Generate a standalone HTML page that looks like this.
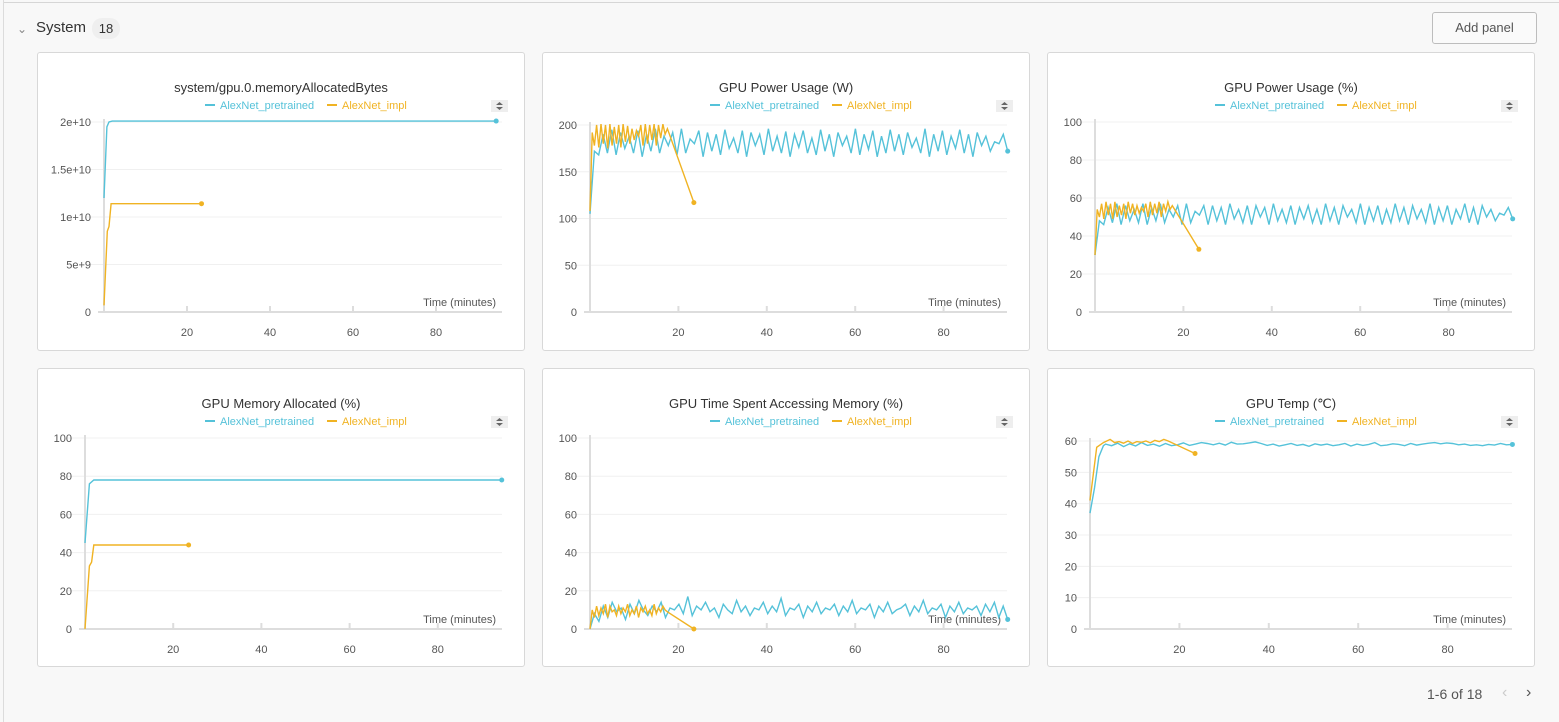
<!DOCTYPE html>
<html><head><meta charset="utf-8">
<style>
body{margin:0;width:1559px;height:722px;background:#f8f8f8;font-family:"Liberation Sans",sans-serif;position:relative;overflow:hidden}
.abs{position:absolute}
.panel{position:absolute;background:#fff;border:1px solid #d8d8d8;border-radius:3px;box-sizing:border-box}
svg{position:absolute;left:0;top:0}
</style></head><body>
<div class="abs" style="left:3px;top:2px;width:1556px;height:1px;background:#d6d6d6"></div>
<div class="abs" style="left:3px;top:0;width:1px;height:722px;background:#dcdcdc"></div>
<div class="abs" style="left:17px;top:22px;width:12px;height:12px;font-size:12px;color:#888">&#8964;</div>
<div class="abs" style="left:36px;top:19px;font-size:15px;color:#333">System</div>
<div class="abs" style="left:92px;top:18px;width:28px;height:21px;border-radius:10px;background:#efefef;font-size:13px;color:#333;text-align:center;line-height:21px">18</div>
<div class="abs" style="left:1432px;top:12px;width:103px;height:30px;border:1px solid #bdbdbd;border-radius:3px;background:#fafafa;font-size:13px;color:#555;text-align:center;line-height:30px">Add panel</div>
<div class="abs" style="left:1427px;top:686px;font-size:14px;color:#555">1-6 of 18</div>
<div class="abs" style="left:1502px;top:684px;font-size:16px;color:#ccc">&#8249;</div>
<div class="abs" style="left:1526px;top:684px;font-size:16px;color:#555">&#8250;</div>
<svg id="chart" width="1559" height="722"></svg>
<script>
const seriesNames=["AlexNet_pretrained","AlexNet_impl"];
const panelTitles=["system/gpu.0.memoryAllocatedBytes","GPU Power Usage (W)","GPU Power Usage (%)","GPU Memory Allocated (%)","GPU Time Spent Accessing Memory (%)","GPU Temp (\u2103)"];
const xTicks=[20,40,60,80];
const yTicksBytes=[0,5e9,1e10,1.5e10,2e10];
const yTickLabelsBytes=["0","5e+9","1e+10","1.5e+10","2e+10"];
const yTicksW=[0,50,100,150,200];
const yTicksPct=[0,20,40,60,80,100];
const yTicksTemp=[0,10,20,30,40,50,60];
// memory bytes
const bytesPreT=[0,0.7,1.2,2,94.5];
const bytesPreV=[1.2e10,1.95e10,2.0e10,2.01e10,2.01e10];
const bytesImplT=[0,0.8,1.2,1.7,23.5];
const bytesImplV=[0.07e10,0.85e10,0.9e10,1.14e10,1.14e10];
// power W (pretrained sampled evenly 0..94.5)
const powerWPre=[105,172,168,190,170,195,168,192,175,188,170,194,166,190,172,196,170,188,178,192,168,196,170,185,180,194,166,192,172,190,168,195,175,186,170,194,166,192,178,190,168,196,172,188,170,193,166,190,176,194,170,186,168,195,172,190,166,192,178,188,170,196,168,190,174,194,166,188,170,195,172,190,168,192,176,186,170,196,166,190,172,194,168,188,175,195,170,190,166,192,178,188,172,182,180,190,172];
// power W impl sampled every 0.5 min 0..17, then final point
const powerWImpl=[108,192,178,200,176,201,180,200,175,201,178,198,180,200,176,201,182,199,180,196,184,194,188,200,178,201,180,200,184,201,178,200,186,201,190,196];
const powerWImplEndT=23.5, powerWImplEndV=117;
const powerPctPre=[30,48,46,55,47,57,46,56,48,54,47,57,46,55,48,57,47,54,50,56,46,57,47,53,51,56,46,56,48,55,46,57,49,54,47,56,46,56,50,55,46,57,48,54,47,56,46,55,49,56,47,54,46,57,48,55,46,56,50,54,47,57,46,55,48,56,46,54,47,57,48,55,46,56,49,54,47,57,46,55,48,56,46,54,49,57,47,55,46,56,50,54,48,52,51,55,49];
const powerPctImpl=[30,54,50,57,49,58,51,57,49,58,50,56,51,57,49,58,52,57,51,56,52,55,53,57,50,58,51,57,52,58,50,57,53,58,54,56];
const powerPctImplEndT=23.5, powerPctImplEndV=33;
const memPctPreT=[0,1,2,94.5];
const memPctPreV=[45,76,78,78];
const memPctImplT=[0,1,1.5,2,23.5];
const memPctImplV=[0,33,35,44,44];
const accessPre=[0,8,4,12,6,14,9,11,5,13,8,15,10,7,12,9,14,6,11,10,13,8,17,7,12,10,14,9,11,6,13,10,8,15,9,12,7,11,10,14,8,12,9,16,7,11,10,13,6,12,9,14,8,11,10,13,7,12,9,15,8,11,10,13,6,12,9,14,8,10,11,13,7,12,9,15,8,11,10,13,6,12,9,14,8,11,10,12,7,13,9,14,6,12,5];
const accessImpl=[0,10,6,12,7,11,8,13,6,12,9,10,7,12,8,11,9,13,7,10,8,12,6,11,9,12,8,10,7,13,8,11,9,12,10,9];
const accessImplEndT=23.5, accessImplEndV=0;
const tempPreT=[0,1,2,3];
const tempPreV=[37,45,55,58.5];
const tempPreNoise=[59,58.5,59.3,58.2,59.1,58.4,59.5,58.6,59,58.3,59.2,58.5,58.8,59.4,58.6,59,59.5,59.2,58.8,59.3,58.7,59.6,59,59.1,59.4,59.7,59.2,58.6,59,58.4,58.8,59.2,58.6,58.9,58.3,59.1,58.7,59,58.5,58.8,59.2,58.4,59,58.6,58.9,59.5,58.5,58.7,59.1,58.9,58.5,59.2,58.7,59,59.3,59.5,59.1,59.4,59.2,58.8,59,58.6,58.8,58.5,58.9,58.7,59.2,58.8,58.9];
const tempImplT=[0,1.5,3,4.5,5.5,6.5,7.5,8.5,9.5,10.5,11.5,12.5,13.5,14.5,15.5,16.5,17.5,23.5];
const tempImplV=[41,58,59.5,60.5,59.5,59.8,59.3,60,59.2,59.8,59.6,60,59.4,60.2,59.8,60.5,60,56];

const BLUE="#55c2d9", ORANGE="#f0b323";
const NS="http://www.w3.org/2000/svg";
const svg=document.getElementById('chart');
function mk(tag,attrs,parent){const e=document.createElementNS(NS,tag);for(const k in attrs)e.setAttribute(k,attrs[k]);(parent||svg).appendChild(e);return e;}
function evenT(n,end){const t=[];for(let i=0;i<n;i++)t.push(i*end/(n-1));return t;}
function stepT(n,step){const t=[];for(let i=0;i<n;i++)t.push(i*step);return t;}

const panels=[
 {left:37,top:52,x0:104,ppm:4.15,right:502,yTop:122,yBot:312,ymax:2e10,yt:yTicksBytes,yl:yTickLabelsBytes,
  s:[[bytesPreT,bytesPreV],[bytesImplT,bytesImplV]]},
 {left:542,top:52,x0:590,ppm:4.42,right:1007,yTop:125,yBot:312,ymax:200,yt:yTicksW,
  s:[[evenT(powerWPre.length,94.5),powerWPre],[stepT(powerWImpl.length,0.5).concat([powerWImplEndT]),powerWImpl.concat([powerWImplEndV])]]},
 {left:1047,top:52,x0:1095,ppm:4.42,right:1512,yTop:122,yBot:312,ymax:100,yt:yTicksPct,
  s:[[evenT(powerPctPre.length,94.5),powerPctPre],[stepT(powerPctImpl.length,0.5).concat([powerPctImplEndT]),powerPctImpl.concat([powerPctImplEndV])]]},
 {left:37,top:368,x0:85,ppm:4.41,right:502,yTop:438,yBot:629,ymax:100,yt:yTicksPct,
  s:[[memPctPreT,memPctPreV],[memPctImplT,memPctImplV]]},
 {left:542,top:368,x0:590,ppm:4.42,right:1007,yTop:438,yBot:629,ymax:100,yt:yTicksPct,
  s:[[evenT(accessPre.length,94.5),accessPre],[stepT(accessImpl.length,0.5).concat([accessImplEndT]),accessImpl.concat([accessImplEndV])]]},
 {left:1047,top:368,x0:1090,ppm:4.47,right:1512,yTop:441,yBot:629,ymax:60,yt:yTicksTemp,
  s:[[tempPreT.concat(tempPreNoise.map((v,i)=>3.5+i*91/(tempPreNoise.length-1))),tempPreV.concat(tempPreNoise)],[tempImplT,tempImplV]]}
];

panels.forEach((p,pi)=>{
 const box=document.createElement('div');
 box.className='panel';
 
 
 box.style.left=p.left+'px';box.style.top=p.top+'px';box.style.width='488px';box.style.height='299px';
 document.body.insertBefore(box,svg);
 const g=mk('g',{});
 
 
 const cx=p.left+244;
 const title=mk('text',{x:cx,y:p.top+40,'text-anchor':'middle','font-size':13,fill:'#333'},g);
 title.textContent=panelTitles[pi];
 
 
 // legend
 const ly=p.top+57;
 const lg=mk('g',{},g);
 
 
 mk('line',{x1:cx-76,x2:cx-66,y1:ly-4,y2:ly-4,stroke:BLUE,'stroke-width':2},lg);
 const l1=mk('text',{x:cx-61,y:ly,'font-size':11,fill:BLUE},lg);l1.textContent=seriesNames[0];
 
 
 mk('line',{x1:cx+46,x2:cx+56,y1:ly-4,y2:ly-4,stroke:ORANGE,'stroke-width':2},lg);
 const l2=mk('text',{x:cx+61,y:ly,'font-size':11,fill:ORANGE},lg);l2.textContent=seriesNames[1];
 
 
 const sb=mk('rect',{x:p.left+454,y:p.top+48,width:17,height:12,fill:'#eee'},g);
 
 
 mk('path',{d:`M${p.left+459} ${p.top+53}l3.5-3 3.5 3zM${p.left+459} ${p.top+55}l3.5 3 3.5-3z`,fill:'#666'},g);
 const ys=v=>p.yBot-(v/p.ymax)*(p.yBot-p.yTop);
 const xs=t=>p.x0+t*p.ppm;
 p.yt.forEach((v,i)=>{
  const y=ys(v);
  if(v>0)mk('line',{x1:p.x0-18,x2:p.right,y1:y,y2:y,stroke:'#f0f0f0','stroke-width':1},g);
  const t=mk('text',{x:p.x0-13,y:y+4,'text-anchor':'end','font-size':11,fill:'#555'},g);
  t.textContent=p.yl?p.yl[i]:String(v);
  
  
 });
 mk('line',{x1:p.x0,x2:p.x0,y1:p.yTop-3,y2:p.yBot,stroke:'#ddd','stroke-width':2},g);
 mk('line',{x1:p.x0-6,x2:p.right,y1:p.yBot,y2:p.yBot,stroke:'#ddd','stroke-width':2},g);
 xTicks.forEach(v=>{
  const x=xs(v);
  mk('line',{x1:x,x2:x,y1:p.yBot-6,y2:p.yBot,stroke:'#ddd','stroke-width':2},g);
  const t=mk('text',{x:x,y:p.yBot+24,'text-anchor':'middle','font-size':11,fill:'#555'},g);
  t.textContent=v;
  
  
 });
 const xt=mk('text',{x:p.right-6,y:p.yBot-6,'text-anchor':'end','font-size':11,fill:'#555'},g);
 xt.textContent='Time (minutes)';
 
 
 [[p.s[0],BLUE,'pretrained'],[p.s[1],ORANGE,'impl']].forEach(([s,c,n])=>{
  const [T,V]=s;
  const pts=T.map((t,i)=>xs(t).toFixed(1)+','+ys(V[i]).toFixed(1)).join(' ');
  const pl=mk('polyline',{points:pts,fill:'none',stroke:c,'stroke-width':1.4},g);
  
  
  const last=T.length-1;
  mk('circle',{cx:xs(T[last]),cy:ys(V[last]),r:2.5,fill:c},g);
 });
});
</script>
</body></html>
